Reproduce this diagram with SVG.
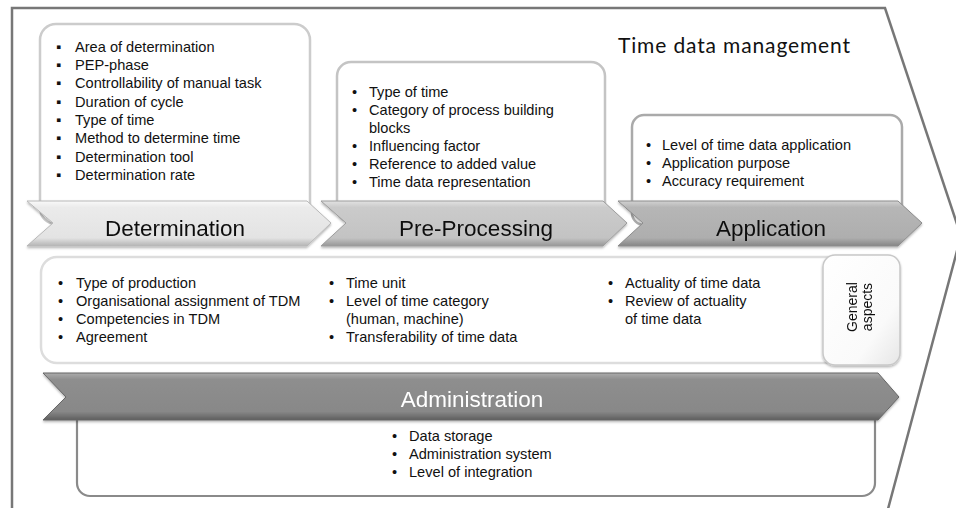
<svg xmlns="http://www.w3.org/2000/svg" width="956" height="508" viewBox="0 0 956 508">
<style>
.t{font-family:"Liberation Sans",Arial,sans-serif;font-size:14.6px;fill:#111}
.h{font-family:"Liberation Sans",Arial,sans-serif;font-size:22.5px;fill:#111;text-anchor:middle}
.box{fill:#fff;stroke-width:2.5}
.bn{stroke-width:1}
</style>
<defs>
<linearGradient id="g1" x1="0" y1="0" x2="0" y2="1">
<stop offset="0" stop-color="#f9f9f9"/><stop offset="0.14" stop-color="#ebebeb"/><stop offset="0.82" stop-color="#e3e3e3"/><stop offset="1" stop-color="#b4b4b4"/>
</linearGradient>
<linearGradient id="g2" x1="0" y1="0" x2="0" y2="1">
<stop offset="0" stop-color="#e2e2e2"/><stop offset="0.14" stop-color="#cbcbcb"/><stop offset="0.82" stop-color="#c3c3c3"/><stop offset="1" stop-color="#979797"/>
</linearGradient>
<linearGradient id="g3" x1="0" y1="0" x2="0" y2="1">
<stop offset="0" stop-color="#d2d2d2"/><stop offset="0.14" stop-color="#b6b6b6"/><stop offset="0.82" stop-color="#aeaeae"/><stop offset="1" stop-color="#858585"/>
</linearGradient>
<linearGradient id="g4" x1="0" y1="0" x2="0" y2="1">
<stop offset="0" stop-color="#acacac"/><stop offset="0.14" stop-color="#8e8e8e"/><stop offset="0.82" stop-color="#888888"/><stop offset="1" stop-color="#5e5e5e"/>
</linearGradient>
<linearGradient id="gt" x1="0" y1="0" x2="1" y2="1">
<stop offset="0" stop-color="#ffffff"/><stop offset="0.7" stop-color="#fafafa"/><stop offset="1" stop-color="#e6e6e6"/>
</linearGradient>
<filter id="sh" x="-5%" y="-20%" width="110%" height="150%">
<feDropShadow dx="0" dy="1.5" stdDeviation="1.2" flood-color="#000" flood-opacity="0.3"/>
</filter>
</defs>

<g id="frame">
<path d="M12,509 L12,8 L885,8 L961,236 L888,509" fill="#fff" stroke="#777" stroke-width="2.5"/>
<text x="618" y="53" font-family="Lato,'Open Sans',sans-serif" font-size="21" fill="#111" textLength="232">Time data management</text>
</g>

<g id="determination-box">
<rect class="box" x="40" y="24" width="270" height="200" rx="16" stroke="#cccccc"/>
<text class="t" y="52"><tspan x="56">▪</tspan><tspan x="75">Area of determination</tspan></text>
<text class="t" y="70"><tspan x="56">▪</tspan><tspan x="75">PEP-phase</tspan></text>
<text class="t" y="88"><tspan x="56">▪</tspan><tspan x="75">Controllability of manual task</tspan></text>
<text class="t" y="107"><tspan x="56">▪</tspan><tspan x="75">Duration of cycle</tspan></text>
<text class="t" y="125"><tspan x="56">▪</tspan><tspan x="75">Type of time</tspan></text>
<text class="t" y="143"><tspan x="56">▪</tspan><tspan x="75">Method to determine time</tspan></text>
<text class="t" y="162"><tspan x="56">▪</tspan><tspan x="75">Determination  tool</tspan></text>
<text class="t" y="180"><tspan x="56">▪</tspan><tspan x="75">Determination  rate</tspan></text>
</g>

<g id="preprocessing-box">
<rect class="box" x="337" y="62" width="268" height="160" rx="14" stroke="#c4c4c4"/>
<text class="t" y="97"><tspan x="352">•</tspan><tspan x="369">Type of time</tspan></text>
<text class="t" y="115"><tspan x="352">•</tspan><tspan x="369">Category of process building</tspan></text>
<text class="t" y="133"><tspan x="369">blocks</tspan></text>
<text class="t" y="151"><tspan x="352">•</tspan><tspan x="369">Influencing factor</tspan></text>
<text class="t" y="169"><tspan x="352">•</tspan><tspan x="369">Reference to added value</tspan></text>
<text class="t" y="187"><tspan x="352">•</tspan><tspan x="369">Time data representation</tspan></text>
</g>

<g id="application-box">
<rect class="box" x="632" y="115" width="270" height="110" rx="12" stroke="#aaaaaa"/>
<text class="t" y="150"><tspan x="646">•</tspan><tspan x="662">Level of time data application</tspan></text>
<text class="t" y="168"><tspan x="646">•</tspan><tspan x="662">Application purpose</tspan></text>
<text class="t" y="186"><tspan x="646">•</tspan><tspan x="662">Accuracy requirement</tspan></text>
</g>

<g id="determination" filter="url(#sh)">
<path class="bn" d="M27,201 L307,201 L331,223 L307,246 L27,246 L53,223 Z" fill="url(#g1)" stroke="#b8b8b8"/>
<text class="h" x="175" y="236">Determination</text>
</g>
<g id="pre-processing" filter="url(#sh)">
<path class="bn" d="M321,201 L603,201 L627,223 L603,246 L321,246 L346,223 Z" fill="url(#g2)" stroke="#9c9c9c"/>
<text class="h" x="476" y="236">Pre-Processing</text>
</g>
<g id="application" filter="url(#sh)">
<path class="bn" d="M618,201 L898,201 L922,223 L898,246 L618,246 L643,223 Z" fill="url(#g3)" stroke="#8c8c8c"/>
<text class="h" x="771" y="236">Application</text>
</g>

<g id="general-aspects-box">
<rect class="box" x="41" y="257" width="858" height="106" rx="16" stroke="#dddddd"/>
<text class="t" y="288"><tspan x="58">•</tspan><tspan x="76">Type of production</tspan></text>
<text class="t" y="306"><tspan x="58">•</tspan><tspan x="76">Organisational assignment of TDM</tspan></text>
<text class="t" y="324"><tspan x="58">•</tspan><tspan x="76">Competencies in TDM</tspan></text>
<text class="t" y="342"><tspan x="58">•</tspan><tspan x="76">Agreement</tspan></text>
<text class="t" y="288"><tspan x="329">•</tspan><tspan x="346">Time unit</tspan></text>
<text class="t" y="306"><tspan x="329">•</tspan><tspan x="346">Level of time category</tspan></text>
<text class="t" y="324"><tspan x="346">(human, machine)</tspan></text>
<text class="t" y="342"><tspan x="329">•</tspan><tspan x="346">Transferability of time data</tspan></text>
<text class="t" y="288"><tspan x="608">•</tspan><tspan x="625">Actuality of time data</tspan></text>
<text class="t" y="306"><tspan x="608">•</tspan><tspan x="625">Review of actuality</tspan></text>
<text class="t" y="324"><tspan x="625">of time data</tspan></text>
</g>

<g id="general-aspects-tab" filter="url(#sh)">
<rect x="823" y="255" width="77" height="110" rx="12" fill="url(#gt)" stroke="#c8c8c8" stroke-width="1.5"/>
<text font-family="'Liberation Sans',Arial,sans-serif" font-size="14" fill="#111" text-anchor="middle" transform="translate(857,307) rotate(-90)"><tspan x="0" y="0">General</tspan><tspan x="0" y="15">aspects</tspan></text>
</g>

<g id="administration-box">
<rect x="77" y="400" width="798" height="96" rx="13" fill="#fff" stroke="#8a8a8a" stroke-width="2.2"/>
<text class="t" y="441"><tspan x="392">•</tspan><tspan x="409">Data storage</tspan></text>
<text class="t" y="459"><tspan x="392">•</tspan><tspan x="409">Administration system</tspan></text>
<text class="t" y="477"><tspan x="392">•</tspan><tspan x="409">Level of integration</tspan></text>
</g>

<g id="administration" filter="url(#sh)">
<path class="bn" d="M43,373 L878,373 L899,397 L878,420 L43,420 L66,397 Z" fill="url(#g4)" stroke="#666"/>
<text class="h" x="472" y="407" style="fill:#fff">Administration</text>
</g>

<g id="connectors"></g>
</svg>
